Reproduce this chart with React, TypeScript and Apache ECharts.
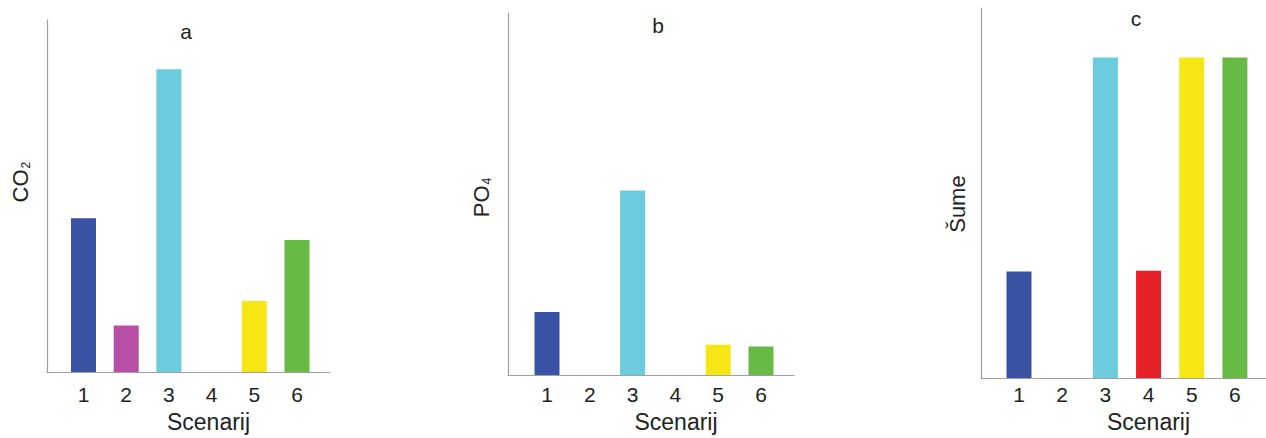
import React, { useEffect, useRef } from "react";
import * as echarts from "echarts";

const scenarios = ["1", "2", "3", "4", "5", "6"];
const scenarioPos = [1, 2, 3, 4, 5, 6];
const colors = ["#3a52a3", "#b84fa6", "#6ccbdc", "#e62228", "#f5e614", "#67bb45"];
const co2Values = [43.7, 13.2, 86, 0, 20.2, 37.5];
const po4Values = [17.4, 0, 51, 0, 8.4, 7.9];
const sumeValues = [28.8, 0, 86.6, 29, 86.6, 86.6];
const panelTitles = ["a", "b", "c"];

const FONT = "Liberation Sans, Arial, Helvetica, sans-serif";

export default function App() {
  const ref = useRef<HTMLDivElement>(null);
  useEffect(() => {
    document.body.style.margin = "0";
    if (!ref.current) return;
    const chart = echarts.init(ref.current, undefined, { renderer: "svg" });

    const grids = [
      { left: 47, top: 20, width: 283, height: 357, min: 0.145, max: 6.773, labelMargin: 12, nameShift: 40, nameGap: 37, yGap: 15, yPad: [0, 0, 0, 28] },
      { left: 508, top: 13, width: 286, height: 367, min: 0.089, max: 6.771, labelMargin: 9, nameShift: 50, nameGap: 34, yGap: 15, yPad: [0, 7, 0, 0] },
      { left: 981, top: 8, width: 285, height: 372, min: 0.12, max: 6.72, labelMargin: 6, nameShift: 50, nameGap: 31, yGap: 13, yPad: [0, 22, 0, 0] },
    ];
    const yNames = ["{t|CO}{s|2}", "{t|PO}{s|4}", "{t|Šume}"];
    const datasets = [co2Values, po4Values, sumeValues];
    const titlePos = [
      { x: 186, y: 21 },
      { x: 658, y: 15 },
      { x: 1136, y: 8 },
    ];

    const option: any = {
      animation: false,
      backgroundColor: "#ffffff",
      textStyle: { fontFamily: FONT },
      title: panelTitles.map((t, i) => ({
        text: t,
        left: titlePos[i].x,
        top: titlePos[i].y,
        textAlign: "center",
        padding: 0,
        textStyle: { fontSize: 21, fontWeight: "normal", color: "#222", fontFamily: FONT },
      })),
      grid: grids.map((g) => ({ left: g.left, top: g.top, width: g.width, height: g.height, containLabel: false })),
      xAxis: grids.map((g, i) => ({
        type: "value",
        gridIndex: i,
        min: g.min,
        max: g.max,
        name: "Scenarij",
        nameLocation: "middle",
        nameGap: g.nameGap,
        nameTextStyle: { fontSize: 23, color: "#222", fontFamily: FONT, padding: [0, 0, 0, g.nameShift] },
        axisLine: { show: true, lineStyle: { color: "#a0a0a0", width: 1.2 } },
        axisTick: { show: false },
        splitLine: { show: false },
        axisLabel: {
          customValues: scenarioPos,
          margin: g.labelMargin,
          fontSize: 21,
          color: "#222",
          fontFamily: FONT,
          formatter: (v: number) => scenarios[Math.round(v) - 1] ?? "",
        },
      })),
      yAxis: grids.map((g, i) => ({
        type: "value",
        gridIndex: i,
        min: 0,
        max: 100,
        name: yNames[i],
        nameLocation: "middle",
        nameGap: g.yGap,
        nameTextStyle: {
          fontSize: 22,
          color: "#222",
          fontFamily: FONT,
          padding: g.yPad,
          rich: {
            t: { fontSize: 22, color: "#222", fontFamily: FONT },
            s: { fontSize: 12, color: "#222", fontFamily: FONT, padding: [12, 0, 0, 1] },
          },
        },
        axisLine: { show: true, lineStyle: { color: "#a0a0a0", width: 1.2 } },
        axisTick: { show: false },
        axisLabel: { show: false },
        splitLine: { show: false },
      })),
      series: datasets.map((vals, i) => ({
        type: "bar",
        xAxisIndex: i,
        yAxisIndex: i,
        barWidth: 25,
        data: vals.map((v, k) => ({ value: [scenarioPos[k], v], itemStyle: { color: colors[k] } })),
      })),
    };
    chart.setOption(option);
    return () => chart.dispose();
  }, []);
  return <div ref={ref} style={{ width: 1266, height: 438 }} />;
}
